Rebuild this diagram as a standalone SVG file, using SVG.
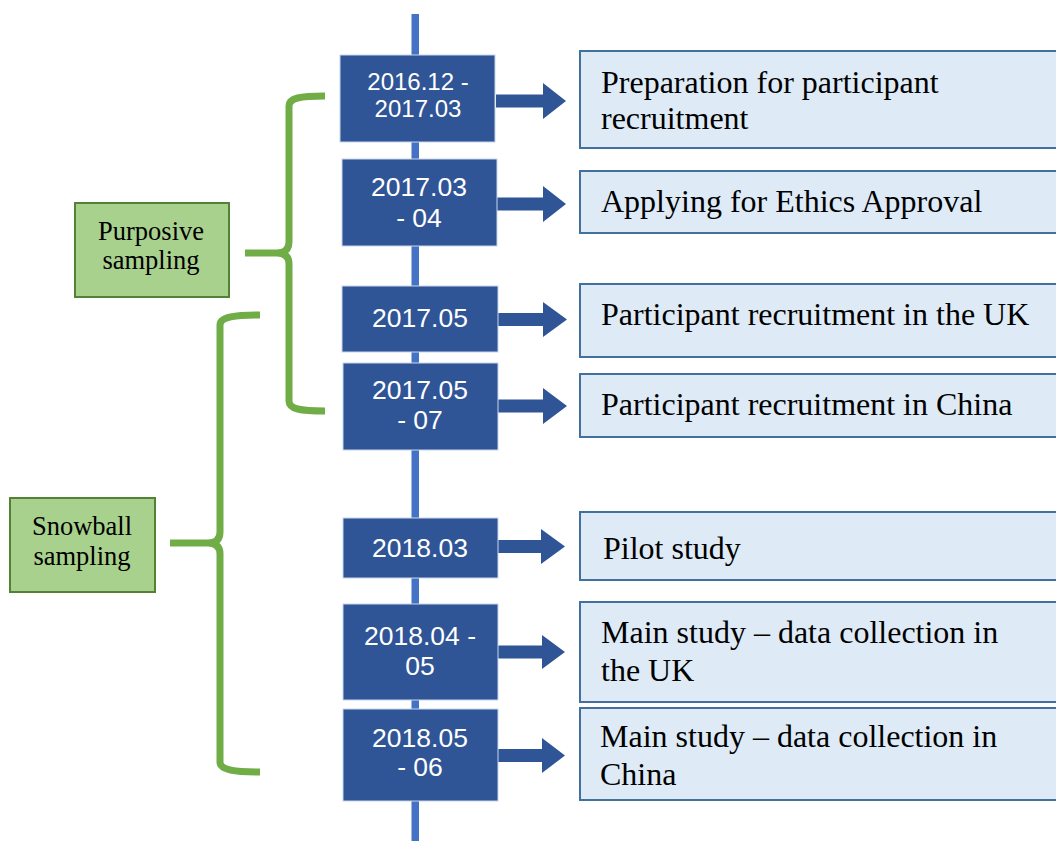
<svg xmlns="http://www.w3.org/2000/svg" width="1056" height="841" viewBox="0 0 1056 841">
  <defs>
    <style>
      .date rect { fill: #2F5597; stroke: #C9D6EC; stroke-width: 1; }
      .date text { font-family: "Liberation Sans", Arial, sans-serif; font-size: 26.5px; fill: #FFFFFF; text-anchor: middle; }
      #d1 text { font-size: 24px; }
      .task rect { fill: #DEEBF7; stroke: #41719C; stroke-width: 2; }
      .task text { font-family: "Liberation Serif", "Times New Roman", serif; font-size: 32px; fill: #000000; }
      .group rect { fill: #A9D18E; stroke: #548235; stroke-width: 2; }
      .group text { font-family: "Liberation Serif", "Times New Roman", serif; font-size: 26.5px; fill: #000000; text-anchor: middle; }
      .brace { fill: none; stroke: #70AD47; stroke-width: 7; stroke-linejoin: round; }
      .arrow { fill: #2F5597; }
    </style>
  </defs>

  <rect width="1056" height="841" fill="#FFFFFF"/>

  <!-- timeline spine -->
  <g id="timeline">
    <rect x="411.5" y="14" width="7.5" height="827" fill="#4472C4"/>
  </g>

  <!-- arrows from dates to activities -->
  <g id="connectors">
    <path class="arrow" d="M496,94.5 H543 V83 L566,101 L543,119 V107.5 H496 Z"/>
    <path class="arrow" d="M497,197.5 H543 V186 L566,204 L543,222 V210.5 H497 Z"/>
    <path class="arrow" d="M498,313 H543 V302 L567,319.5 L543,337 V326 H498 Z"/>
    <path class="arrow" d="M498,399.5 H543 V388 L567,406 L543,424 V412.5 H498 Z"/>
    <path class="arrow" d="M498,540 H541 V529 L565,546.5 L541,564 V553 H498 Z"/>
    <path class="arrow" d="M498,645.5 H542 V635 L565,652 L542,669 V658.5 H498 Z"/>
    <path class="arrow" d="M498,749 H542 V738 L565,755.5 L542,773 V762 H498 Z"/>
  </g>

  <!-- sampling braces -->
  <g id="braces">
    <path class="brace" d="M325,96 C300,96 289,98 289,106 L289,242 Q289,253 277,253 L245,253 M277,253 Q289,253 289,264 L289,401 C289,409 300,411 325,411"/>
    <path class="brace" d="M260,315 C235,315 220,317 220,325 L220,532 Q220,543 208,543 L170,543 M208,543 Q220,543 220,554 L220,762 C220,770 235,772 260,772"/>
  </g>

  <!-- sampling groups -->
  <g id="purposive" class="group">
    <rect x="75" y="203" width="154" height="94"/>
    <text x="151" y="240">Purposive</text>
    <text x="151" y="269">sampling</text>
  </g>
  <g id="snowball" class="group">
    <rect x="10" y="498" width="145" height="94"/>
    <text x="82" y="535">Snowball</text>
    <text x="82" y="565">sampling</text>
  </g>

  <!-- date nodes -->
  <g id="d1" class="date">
    <rect x="340" y="55" width="155" height="87"/>
    <text x="418" y="90">2016.12 -</text>
    <text x="418" y="117">2017.03</text>
  </g>
  <g id="d2" class="date">
    <rect x="342" y="159" width="155" height="87"/>
    <text x="419" y="196">2017.03</text>
    <text x="419" y="227">- 04</text>
  </g>
  <g id="d3" class="date">
    <rect x="342" y="286" width="156" height="66"/>
    <text x="420" y="327">2017.05</text>
  </g>
  <g id="d4" class="date">
    <rect x="343" y="363" width="155" height="87"/>
    <text x="420" y="399">2017.05</text>
    <text x="420" y="429">- 07</text>
  </g>
  <g id="d5" class="date">
    <rect x="343" y="518" width="155" height="60"/>
    <text x="420" y="557">2018.03</text>
  </g>
  <g id="d6" class="date">
    <rect x="343" y="604" width="155" height="96"/>
    <text x="420" y="645">2018.04 -</text>
    <text x="420" y="675">05</text>
  </g>
  <g id="d7" class="date">
    <rect x="343" y="709" width="155" height="92"/>
    <text x="420" y="747">2018.05</text>
    <text x="420" y="776">- 06</text>
  </g>

  <!-- activity nodes -->
  <g id="t1" class="task">
    <rect x="580" y="51" width="490" height="97"/>
    <text x="601" y="93">Preparation for participant</text>
    <text x="601" y="129">recruitment</text>
  </g>
  <g id="t2" class="task">
    <rect x="580" y="171" width="490" height="62"/>
    <text x="601" y="212">Applying for Ethics Approval</text>
  </g>
  <g id="t3" class="task">
    <rect x="580" y="284" width="490" height="73"/>
    <text x="601" y="325">Participant recruitment in the UK</text>
  </g>
  <g id="t4" class="task">
    <rect x="580" y="374" width="490" height="63"/>
    <text x="601" y="415">Participant recruitment in China</text>
  </g>
  <g id="t5" class="task">
    <rect x="580" y="512" width="490" height="68"/>
    <text x="603" y="559">Pilot study</text>
  </g>
  <g id="t6" class="task">
    <rect x="580" y="602" width="490" height="100"/>
    <text x="601" y="643">Main study – data collection in</text>
    <text x="601" y="681">the UK</text>
  </g>
  <g id="t7" class="task">
    <rect x="580" y="708" width="490" height="92"/>
    <text x="600" y="747">Main study – data collection in</text>
    <text x="600" y="785">China</text>
  </g>
</svg>
